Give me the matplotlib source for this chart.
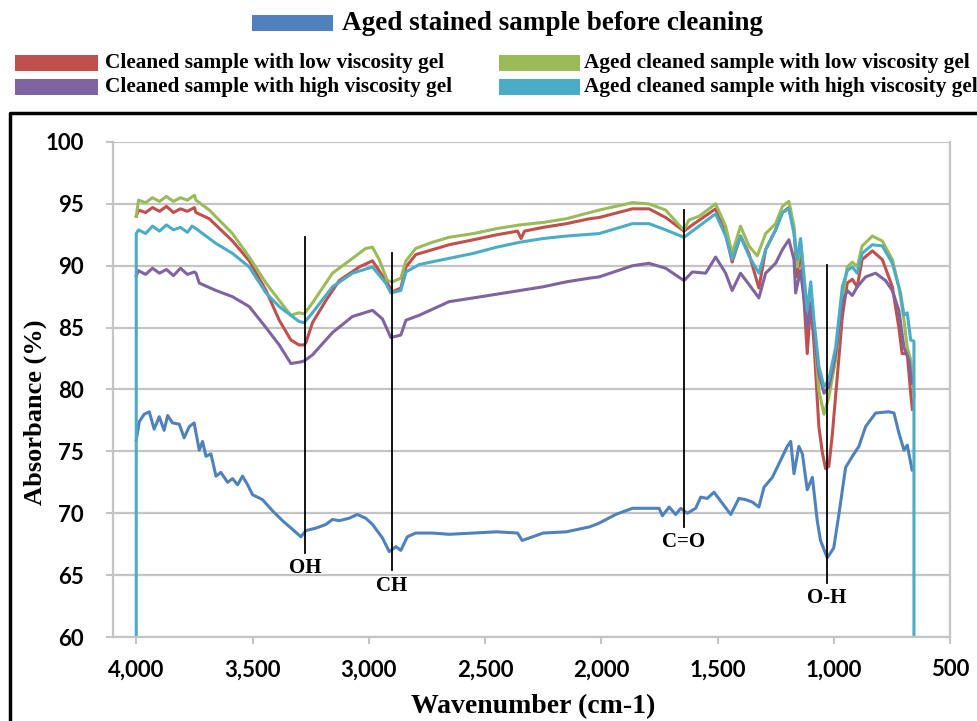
import matplotlib
matplotlib.use("Agg")
import matplotlib.pyplot as plt
from matplotlib.patches import Rectangle
from matplotlib.lines import Line2D

# --- spectra (wavenumber cm-1, absorbance %) ---
wn_aged_stained = [4000, 3987, 3966, 3944, 3923, 3901, 3880, 3865, 3844, 3815, 3794, 3772, 3751,
                   3729, 3715, 3700, 3679, 3657, 3636, 3607, 3586, 3564, 3543, 3521, 3500, 3457,
                   3414, 3371, 3328, 3292, 3270, 3227, 3184, 3156, 3127, 3084, 3049, 3013, 2984,
                   2941, 2912, 2883, 2862, 2834, 2798, 2726, 2654, 2550, 2450, 2360, 2340, 2250,
                   2150, 2050, 2009, 1938, 1866, 1795, 1751, 1737, 1708, 1680, 1658, 1630, 1594,
                   1572, 1544, 1515, 1479, 1443, 1408, 1379, 1350, 1322, 1300, 1264, 1228, 1200,
                   1185, 1171, 1150, 1135, 1114, 1092, 1071, 1057, 1028, 1000, 978, 949, 920, 892,
                   863, 820, 763, 741, 720, 698, 684, 663]
aged_stained = [75.9, 77.4, 78.0, 78.2, 76.8, 77.8, 76.7, 77.9, 77.3, 77.2, 76.1, 77.0, 77.3,
                75.1, 75.8, 74.6, 74.8, 73.0, 73.3, 72.5, 72.8, 72.3, 73.0, 72.3, 71.5, 71.1,
                70.2, 69.4, 68.7, 68.1, 68.6, 68.8, 69.1, 69.5, 69.4, 69.6, 69.9, 69.6, 69.1,
                68.0, 66.9, 67.3, 67.0, 68.1, 68.4, 68.4, 68.3, 68.4, 68.5, 68.4, 67.8, 68.4,
                68.5, 68.9, 69.2, 69.9, 70.4, 70.4, 70.4, 69.8, 70.5, 69.9, 70.4, 70.0, 70.4,
                71.3, 71.2, 71.7, 70.8, 69.9, 71.2, 71.1, 70.9, 70.5, 72.1, 72.9, 74.3, 75.4,
                75.8, 73.2, 75.4, 74.8, 71.9, 72.9, 69.4, 67.8, 66.4, 67.2, 69.9, 73.7, 74.6, 75.4,
                77.0, 78.1, 78.2, 78.1, 76.5, 75.1, 75.5, 73.5]

wn_clean_low = [4000, 3990, 3960, 3930, 3900, 3870, 3840, 3810, 3780, 3750, 3743, 3686, 3586,
                3514, 3442, 3385, 3335, 3300, 3278, 3270, 3242, 3184, 3127, 3041, 2984, 2927,
                2898, 2862, 2840, 2798, 2654, 2550, 2450, 2360, 2345, 2330, 2250, 2150, 2050,
                2009, 1866, 1795, 1723, 1644, 1608, 1508, 1465, 1437, 1401, 1365, 1322, 1293,
                1250, 1221, 1193, 1171, 1157, 1143, 1128, 1114, 1099, 1085, 1064, 1049, 1035,
                1021, 1006, 985, 963, 942, 920, 899, 878, 834, 791, 748, 720, 706, 684, 669, 662]
clean_low = [94.0, 94.5, 94.3, 94.7, 94.4, 94.8, 94.3, 94.6, 94.4, 94.7, 94.3, 93.8, 92.0,
             90.4, 88.0, 85.6, 84.0, 83.6, 83.6, 83.8, 85.4, 87.2, 88.8, 89.9, 90.4, 88.8,
             87.9, 88.2, 89.9, 90.9, 91.7, 92.1, 92.5, 92.8, 92.2, 92.8, 93.1, 93.4, 93.8,
             93.9, 94.6, 94.6, 93.9, 92.8, 93.3, 94.6, 92.6, 90.3, 92.4, 91.0, 88.2, 91.3,
             92.9, 94.3, 94.7, 92.9, 89.1, 91.6, 87.3, 82.9, 87.0, 83.7, 77.0, 74.9, 73.6,
             73.8, 76.4, 81.0, 85.9, 88.6, 88.9, 88.3, 90.5, 91.2, 90.5, 88.3, 85.0, 82.9, 82.9,
             79.7, 78.4]

wn_aged_low = [4000, 3990, 3960, 3930, 3900, 3870, 3840, 3810, 3780, 3750, 3743, 3686, 3586,
               3514, 3442, 3385, 3335, 3300, 3278, 3242, 3156, 3084, 3013, 2984, 2955, 2920,
               2898, 2862, 2840, 2798, 2726, 2654, 2550, 2450, 2350, 2250, 2150, 2050, 2009,
               1866, 1795, 1723, 1666, 1644, 1623, 1579, 1508, 1465, 1437, 1401, 1365, 1329,
               1293, 1250, 1221, 1193, 1171, 1157, 1143, 1128, 1114, 1099, 1085, 1064, 1042,
               1021, 992, 963, 942, 920, 899, 878, 834, 791, 748, 720, 698, 684, 669, 655]
aged_low = [94.0, 95.3, 95.1, 95.5, 95.2, 95.6, 95.2, 95.5, 95.3, 95.7, 95.3, 94.5, 92.6,
            90.7, 88.6, 87.2, 86.0, 86.2, 86.1, 87.0, 89.4, 90.4, 91.4, 91.5, 90.5, 88.8,
            88.7, 89.0, 90.4, 91.4, 91.9, 92.3, 92.6, 93.0, 93.3, 93.5, 93.8, 94.3, 94.5,
            95.1, 95.0, 94.5, 93.3, 92.9, 93.7, 94.0, 95.0, 93.2, 91.0, 93.2, 91.6, 90.8,
            92.6, 93.4, 94.8, 95.2, 93.2, 89.9, 92.1, 89.1, 85.9, 88.3, 85.0, 79.9, 78.0,
            79.4, 82.4, 87.3, 89.9, 90.3, 89.9, 91.6, 92.4, 92.0, 90.5, 88.3, 85.6, 83.4,
            82.4, 79.5]

wn_clean_high = [4000, 3990, 3960, 3930, 3900, 3870, 3840, 3810, 3780, 3750, 3743, 3729, 3657,
                 3586, 3514, 3442, 3385, 3335, 3300, 3278, 3242, 3156, 3070, 2984, 2941, 2905,
                 2862, 2840, 2783, 2654, 2550, 2450, 2350, 2250, 2150, 2050, 2009, 1866, 1795,
                 1723, 1644, 1608, 1551, 1508, 1465, 1437, 1401, 1365, 1322, 1293, 1250, 1221,
                 1193, 1171, 1164, 1143, 1128, 1114, 1099, 1085, 1064, 1042, 1021, 992, 963,
                 942, 920, 899, 863, 820, 777, 748, 720, 698, 677, 663]
clean_high = [89.2, 89.6, 89.3, 89.8, 89.4, 89.7, 89.2, 89.8, 89.3, 89.5, 89.4, 88.6, 88.0,
              87.5, 86.7, 85.0, 83.6, 82.1, 82.2, 82.3, 82.8, 84.6, 85.9, 86.4, 85.7, 84.2,
              84.4, 85.6, 86.0, 87.1, 87.4, 87.7, 88.0, 88.3, 88.7, 89.0, 89.1, 90.0, 90.2,
              89.8, 88.8, 89.5, 89.4, 90.7, 89.4, 88.0, 89.4, 88.5, 87.4, 89.4, 90.2, 91.3,
              92.1, 90.5, 87.8, 89.6, 87.3, 85.0, 87.0, 84.5, 81.3, 79.7, 80.2, 82.9, 87.0,
              88.0, 87.6, 88.3, 89.1, 89.4, 88.8, 88.0, 86.4, 83.4, 82.4, 80.5]

wn_aged_high = [4000, 4000, 3990, 3960, 3930, 3900, 3870, 3840, 3810, 3780, 3760, 3743, 3657,
                3586, 3514, 3442, 3385, 3300, 3278, 3242, 3156, 3070, 2984, 2927, 2905, 2862,
                2840, 2783, 2654, 2550, 2450, 2350, 2250, 2150, 2009, 1866, 1795, 1723, 1644,
                1608, 1508, 1465, 1437, 1401, 1365, 1322, 1293, 1250, 1221, 1193, 1171, 1157,
                1143, 1128, 1114, 1099, 1085, 1064, 1042, 1021, 992, 963, 942, 920, 899, 878,
                834, 791, 748, 713, 698, 684, 669, 655, 655]
aged_high = [60.0, 92.6, 92.9, 92.6, 93.2, 92.8, 93.3, 92.9, 93.1, 92.7, 93.2, 93.0, 91.8,
             91.0, 89.9, 87.8, 86.7, 85.5, 85.4, 86.2, 88.3, 89.4, 89.9, 88.6, 87.8, 88.0,
             89.5, 90.1, 90.6, 91.0, 91.5, 91.9, 92.2, 92.4, 92.6, 93.4, 93.4, 92.9, 92.3,
             92.8, 94.2, 92.4, 90.5, 92.4, 90.8, 89.4, 91.3, 92.9, 94.3, 94.6, 92.6, 90.5,
             92.2, 89.1, 86.4, 88.7, 85.6, 81.9, 80.2, 80.8, 83.4, 88.3, 89.6, 89.9, 89.4, 91.0,
             91.7, 91.6, 90.2, 87.8, 86.0, 86.2, 84.0, 83.9, 60.0]

# band markers
band_names = ["OH", "CH", "C=O", "O-H"]
band_wn = [3275, 2900, 1645, 1030]
band_top = [92.3, 91.0, 94.5, 90.1]
band_bottom = [66.8, 65.4, 68.9, 64.4]

x_ticks = [4000, 3500, 3000, 2500, 2000, 1500, 1000, 500]
y_ticks = [60, 65, 70, 75, 80, 85, 90, 95, 100]

labels = ["Aged stained sample before cleaning",
          "Cleaned sample with low viscosity gel",
          "Aged cleaned sample with low viscosity gel",
          "Cleaned sample with high viscosity gel",
          "Aged cleaned sample with high viscosity gel"]
colors = ["#4F81BD", "#C0504D", "#9BBB59", "#8064A2", "#4BACC6"]
series = [(wn_aged_stained, aged_stained), (wn_clean_low, clean_low),
          (wn_aged_low, aged_low), (wn_clean_high, clean_high), (wn_aged_high, aged_high)]

W, H = 977, 721
fig = plt.figure(figsize=(W / 100, H / 100), dpi=100)
ax = fig.add_axes([113 / W, 1 - 637 / H, (950 - 113) / W, (637 - 142) / H])

grey = "#c4c4c4"
for (wn, vals), col in zip(series, colors):
    ax.plot(wn, vals, color=col, lw=2.2, solid_joinstyle="round")

for name, w, top, bot in zip(band_names, band_wn, band_top, band_bottom):
    ax.plot([w, w], [bot, top], color="black", lw=1.3)
    ax.annotate(name, xy=(w, bot), xytext=(0, -4), textcoords="offset points",
                ha="center", va="top", family="Liberation Serif", weight="bold", fontsize=15)

ax.set_xlim(4100, 500)
ax.set_ylim(60, 100)
ax.set_xticks(x_ticks, labels=[f"{v:,}" for v in x_ticks],
              family="Lato", weight="bold", fontsize=16)
ax.set_yticks(y_ticks, labels=[str(v) for v in y_ticks],
              family="Lato", weight="bold", fontsize=16)
ax.grid(axis="y", color=grey, lw=1.6)
ax.set_axisbelow(True)
ax.spines["top"].set_visible(False)
for s in ["left", "bottom", "right"]:
    ax.spines[s].set_color(grey)
    ax.spines[s].set_linewidth(1.6)
ax.tick_params(direction="out", length=5, width=1.5, color=grey, labelcolor="black")
ax.tick_params(axis="y", pad=16)
ax.tick_params(axis="x", pad=11)

ax.set_ylabel("Absorbance (%)", family="Liberation Serif", weight="bold", fontsize=19)
ax.yaxis.set_label_coords(-0.079, 0.455)
ax.set_xlabel("Wavenumber (cm-1)", family="Liberation Serif", weight="bold", fontsize=20)
ax.xaxis.set_label_coords(0.502, -0.115)

# legend drawn above the frame
def legend_entry(x0, x1, y0, y1, tx, color, text, size):
    fig.add_artist(Rectangle((x0 / W, 1 - y1 / H), (x1 - x0) / W, (y1 - y0) / H,
                             transform=fig.transFigure, color=color, lw=0))
    fig.text(tx / W, 1 - (y0 + y1) / 2 / H, text, ha="left", va="center",
             family="Liberation Serif", weight="bold", fontsize=size)

legend_entry(252, 333, 15, 31, 342, colors[0], labels[0], 19.5)
legend_entry(15, 98, 55, 71, 105, colors[1], labels[1], 15.3)
legend_entry(499, 580, 55, 71, 584, colors[2], labels[2], 15.3)
legend_entry(15, 98, 79, 95, 105, colors[3], labels[3], 15.3)
legend_entry(499, 580, 79, 95, 584, colors[4], labels[4], 15.3)

# outer frame around the chart area
fig.add_artist(Line2D([10 / W, 10 / W, 1.0], [0.0, 1 - 113 / H, 1 - 113 / H],
                      transform=fig.transFigure, color="black", lw=2.5))

fig.savefig("out.png", dpi=100)
